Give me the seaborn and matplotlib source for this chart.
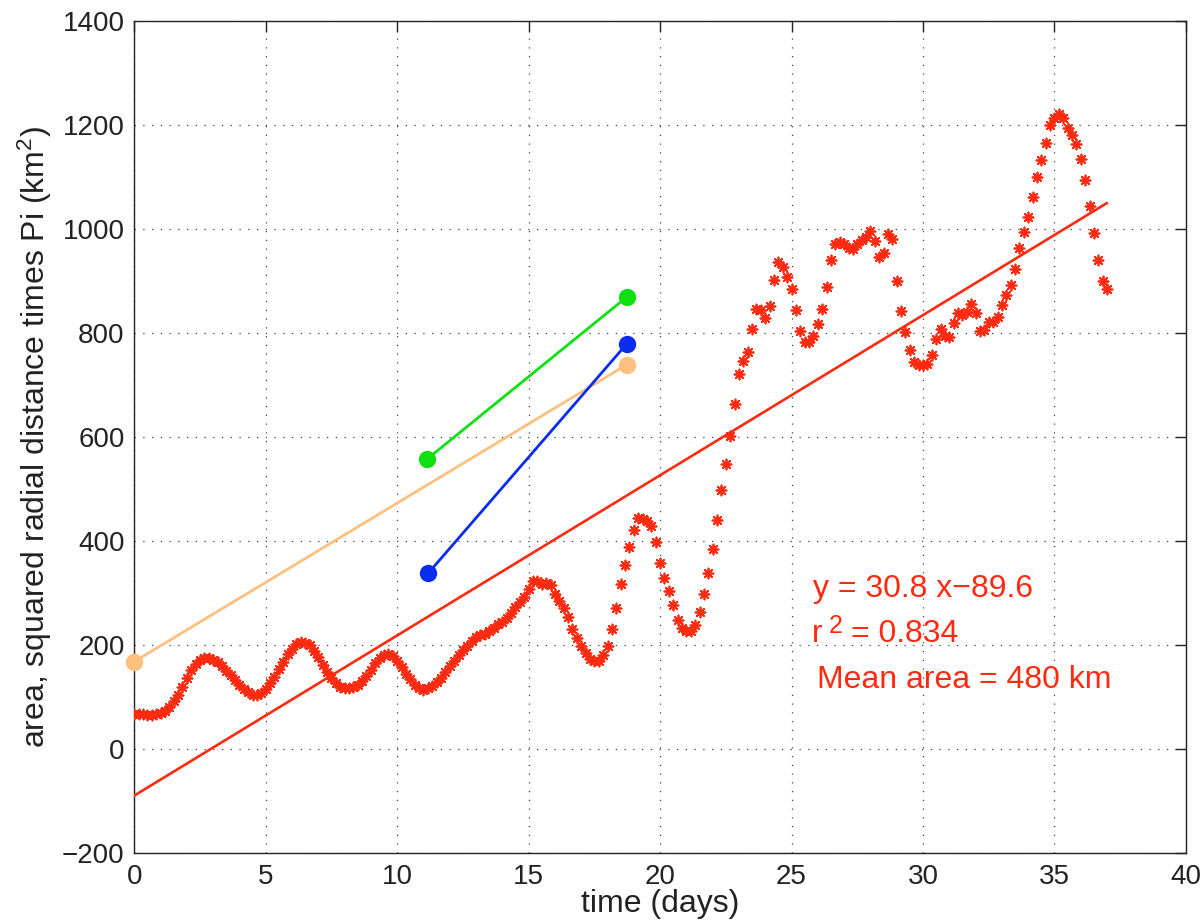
import numpy as np
import pandas as pd
import matplotlib
matplotlib.use("Agg")
import matplotlib.pyplot as plt
import seaborn as sns

# ---------------- data ----------------
dt_days = 1.0 / 6.0  # sampling interval (4 h)
area_values = [
    67, 67, 67, 66, 66, 67, 69, 74, 81, 93,
    104, 120, 137, 152, 163, 171, 175, 175, 172, 167,
    159, 150, 142, 132, 123, 115, 109, 104, 104, 108,
    115, 126, 139, 153, 168, 182, 193, 201, 205, 204,
    200, 189, 177, 162, 149, 137, 127, 120, 117, 117,
    120, 124, 131, 141, 152, 165, 175, 181, 182, 179,
    170, 158, 145, 134, 124, 117, 113, 117, 122, 128,
    136, 149, 160, 169, 180, 190, 198, 207, 215, 219,
    222, 226, 233, 240, 245, 252, 262, 274, 283, 292,
    308, 323, 323, 317, 320, 316, 299, 284, 272, 254,
    231, 213, 198, 184, 174, 169, 169, 180, 199, 230,
    272, 317, 354, 388, 422, 445, 443, 438, 428, 398,
    357, 328, 304, 276, 249, 233, 227, 227, 238, 264,
    299, 339, 384, 440, 499, 549, 601, 663, 722, 747,
    763, 807, 847, 844, 829, 851, 902, 937, 927, 908,
    884, 844, 804, 783, 783, 794, 818, 847, 889, 940,
    971, 974, 971, 964, 962, 972, 979, 985, 996, 976,
    946, 954, 991, 981, 900, 842, 801, 768, 745, 738,
    738, 741, 758, 788, 808, 795, 792, 819, 839, 835,
    840, 855, 839, 803, 806, 821, 821, 830, 853, 873,
    893, 923, 963, 994, 1023, 1062, 1099, 1132, 1165, 1200,
    1214, 1221, 1214, 1195, 1181, 1163, 1134, 1095, 1044, 993,
    940, 899, 884,
]
time_days = [i * dt_days for i in range(len(area_values))]

fit_slope = 30.8
fit_intercept = -89.6
fit_t = [0.0, 37.0]

green_t = [11.15, 18.73]
green_v = [558, 869]
blue_t = [11.18, 18.73]
blue_v = [338, 779]
orange_t = [0.0, 18.73]
orange_v = [168, 739]

x_ticks = [0, 5, 10, 15, 20, 25, 30, 35, 40]
y_ticks = [-200, 0, 200, 400, 600, 800, 1000, 1200, 1400]

eq_text = "y = 30.8 x\u221289.6"
r2_parts = ["r", "2", "= 0.834"]
mean_text = "Mean area = 480 km"

# ---------------- style ----------------
sns.set_theme(style="white")
plt.rcParams["font.family"] = ["Liberation Sans", "DejaVu Sans"]
plt.rcParams["mathtext.fontset"] = "custom"
plt.rcParams["mathtext.rm"] = "Liberation Sans"
plt.rcParams["mathtext.it"] = "Liberation Sans"
plt.rcParams["mathtext.default"] = "regular"
plt.rcParams["axes.unicode_minus"] = True

RED = "#ff2a10"
GREEN = "#10e010"
BLUE = "#0a2cf0"
ORANGE = "#fdc07e"
INK = "#222222"

fig = plt.figure(figsize=(12.04, 9.22), dpi=100)
ax = fig.add_axes([0.1115, 0.0748, 0.8735, 0.9025])

df = pd.DataFrame({"t": time_days, "v": area_values})
sns.scatterplot(data=df, x="t", y="v", ax=ax, marker=(8, 2, 0), s=52,
                color=RED, linewidth=1.3, zorder=3, legend=False)

fit_v = [fit_slope * t + fit_intercept for t in fit_t]
sns.lineplot(x=fit_t, y=fit_v, ax=ax, color=RED, linewidth=1.9,
             zorder=4, legend=False)

for tt, vv, c in [(orange_t, orange_v, ORANGE), (green_t, green_v, GREEN),
                  (blue_t, blue_v, BLUE)]:
    sns.lineplot(x=tt, y=vv, ax=ax, color=c, linewidth=2.0, marker="o",
                 markersize=12.5, markeredgewidth=0, markeredgecolor=c,
                 markerfacecolor=c, zorder=5, legend=False, clip_on=False)

ax.set_xlim(0, 40)
ax.set_ylim(-200, 1400)
ax.set_xticks(x_ticks)
ax.set_yticks(y_ticks)
ax.set_xticklabels([str(v) for v in x_ticks])
ax.set_yticklabels([f"{v}".replace("-", "\u2212") for v in y_ticks])

ax.grid(True, color="black", linestyle=(0, (1, 6)), linewidth=0.9, alpha=0.75)
ax.tick_params(direction="in", length=8, width=1.0, top=True, right=True,
               labelsize=20, colors=INK, pad=7)
ax.tick_params(axis="x", pad=8)
for sp in ax.spines.values():
    sp.set_color(INK)
    sp.set_linewidth(1.0)
    sp.set_visible(True)

ax.set_xlabel("time (days)", fontsize=23, color=INK, labelpad=-1)
ax.set_ylabel(r"area, squared radial distance times Pi (km$^{2}$)",
              fontsize=23, color=INK, labelpad=6)

ax.text(25.8, 292, eq_text, color=RED, fontsize=23)
ax.text(25.78, 206, r2_parts[0], color=RED, fontsize=23)
ax.text(26.4, 224, r2_parts[1], color=RED, fontsize=18)
ax.text(27.25, 206, r2_parts[2], color=RED, fontsize=23)
ax.text(25.97, 117, mean_text, color=RED, fontsize=23)

fig.savefig("out.png", dpi=100)
